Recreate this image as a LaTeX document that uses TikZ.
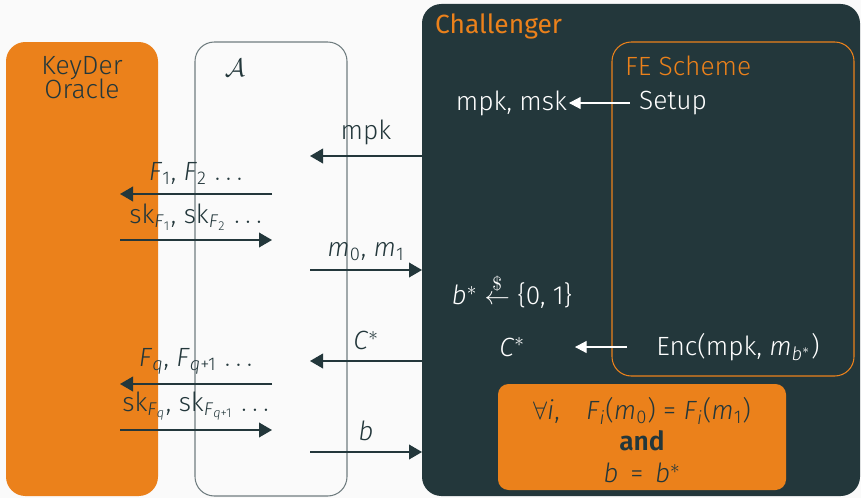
\documentclass[tikz,border=0pt]{standalone}
\usepackage{fontspec}
\setmainfont{Fira Sans}[UprightFont=* Light,ItalicFont=* Light Italic,BoldFont=* SemiBold]
\newfontfamily\firaregular{Fira Sans}
\usepackage{amsmath}
\usetikzlibrary{arrows.meta}

\definecolor{mDarkTeal}{HTML}{23373B}
\definecolor{mOrange}{HTML}{EB811B}
\definecolor{mBg}{HTML}{FAFAFA}
\newcommand{\vr}[1]{\textit{#1}}

\tikzset{
  msg/.style={draw=mDarkTeal,line width=0.75pt,-{Triangle[length=7.4pt,width=8.4pt]}},
  wmsg/.style={draw=white,line width=0.6pt,-{Triangle[length=6.6pt,width=6.8pt]}},
  lbl/.style={text=mDarkTeal,inner sep=1pt},
  wlbl/.style={text=white,inner sep=1pt},
}

\begin{document}
\begin{tikzpicture}[x=0.02cm,y=0.02cm,font=\fontsize{15}{17}\selectfont]
  \fill[mBg] (0,0) rectangle (861,498);
  \useasboundingbox (0,0) rectangle (861,498);

  % parties
  \fill[mOrange,rounded corners=11pt] (6,2) rectangle (158,456);
  \draw[mDarkTeal!65,line width=0.6pt,rounded corners=11pt] (195,2) rectangle (347,456);
  \fill[mDarkTeal,rounded corners=11pt] (422,2) rectangle (860,494);
  \draw[mOrange,line width=0.6pt,rounded corners=11pt] (612,122) rectangle (854,456);
  \fill[mOrange,rounded corners=6pt] (498,8) rectangle (786,114);

  \node[lbl,align=center] (oracle) at (82,420) {KeyDer\\[-3.4pt]Oracle};
  \node[lbl] (adv) at (235,430) {$\mathcal{A}$};
  \node[anchor=west,text=mOrange,inner sep=1pt] (chal) at (433,472) {\firaregular Challenger};
  \node[anchor=west,text=mOrange,inner sep=1pt] (fe) at (623,432) {FE Scheme};

  % inside the challenger
  \node[wlbl,anchor=west] (setup) at (637,395) {Setup};
  \node[wlbl,anchor=east] (keys) at (569,395) {mpk, msk};
  \draw[wmsg,shorten <=4pt] (setup.west) -- (keys.east);

  \node[wlbl] (samp) at (512,207) {\vr{b}$^*$ $\overset{\$}{\leftarrow}$ \{0, 1\}};
  \node[wlbl] (cstar) at (512,151) {\vr{C}$^*$};
  \node[wlbl] (enc) at (738,151) {Enc(mpk, \vr{m}\textsubscript{\vr{b}$^*$})};
  \coordinate (encS) at (627,151);
  \coordinate (encE) at (575,151);
  \draw[wmsg] (encS) -- (encE);

  \node[lbl,align=center] (win) at (642,58)
    {$\forall$\vr{i},\quad\vr{F}\textsubscript{\vr{i}}(\vr{m}\textsubscript{0}) = \vr{F}\textsubscript{\vr{i}}(\vr{m}\textsubscript{1})\\[1pt]
     \textbf{and}\\[1pt]
     \vr{b} \,=\, \vr{b}$^*$};

  % messages between A and the challenger
  \coordinate (mpkS) at (422,342);
  \coordinate (mpkE) at (310,342);
  \coordinate (msgS) at (310,228);
  \coordinate (msgE) at (422,228);
  \coordinate (ctS) at (422,137);
  \coordinate (ctE) at (310,137);
  \coordinate (guessS) at (310,46);
  \coordinate (guessE) at (422,46);
  \draw[msg] (mpkS) -- node[lbl,above=5pt] (mpkL) {mpk} (mpkE);
  \draw[msg] (msgS) -- node[lbl,above=4pt] (msgL) {\vr{m}\textsubscript{0}, \vr{m}\textsubscript{1}} (msgE);
  \draw[msg] (ctS) -- node[lbl,above=5pt] (ctL) {\vr{C}$^*$} (ctE);
  \draw[msg] (guessS) -- node[lbl,above=5pt] (guessL) {\vr{b}} (guessE);

  % key queries
  \coordinate (q1S) at (272,304);
  \coordinate (q1E) at (120,304);
  \coordinate (k1S) at (120,258);
  \coordinate (k1E) at (272,258);
  \coordinate (q2S) at (272,114);
  \coordinate (q2E) at (120,114);
  \coordinate (k2S) at (120,68);
  \coordinate (k2E) at (272,68);
  \draw[msg] (q1S) -- node[lbl,above=4pt] (q1L) {\vr{F}\textsubscript{1}, \vr{F}\textsubscript{2} $\ldots$} (q1E);
  \draw[msg] (k1S) -- node[lbl,above=4pt] (k1L) {sk\textsubscript{\vr{F}\textsubscript{1}}, sk\textsubscript{\vr{F}\textsubscript{2}} $\ldots$} (k1E);
  \draw[msg] (q2S) -- node[lbl,above=4pt] (q2L) {\vr{F}\textsubscript{\vr{q}}, \vr{F}\textsubscript{\vr{q}+1} $\ldots$} (q2E);
  \draw[msg] (k2S) -- node[lbl,above=4pt] (k2L) {sk\textsubscript{\vr{F}\textsubscript{\vr{q}}}, sk\textsubscript{\vr{F}\textsubscript{\vr{q}+1}} $\ldots$} (k2E);
\end{tikzpicture}
\end{document}
